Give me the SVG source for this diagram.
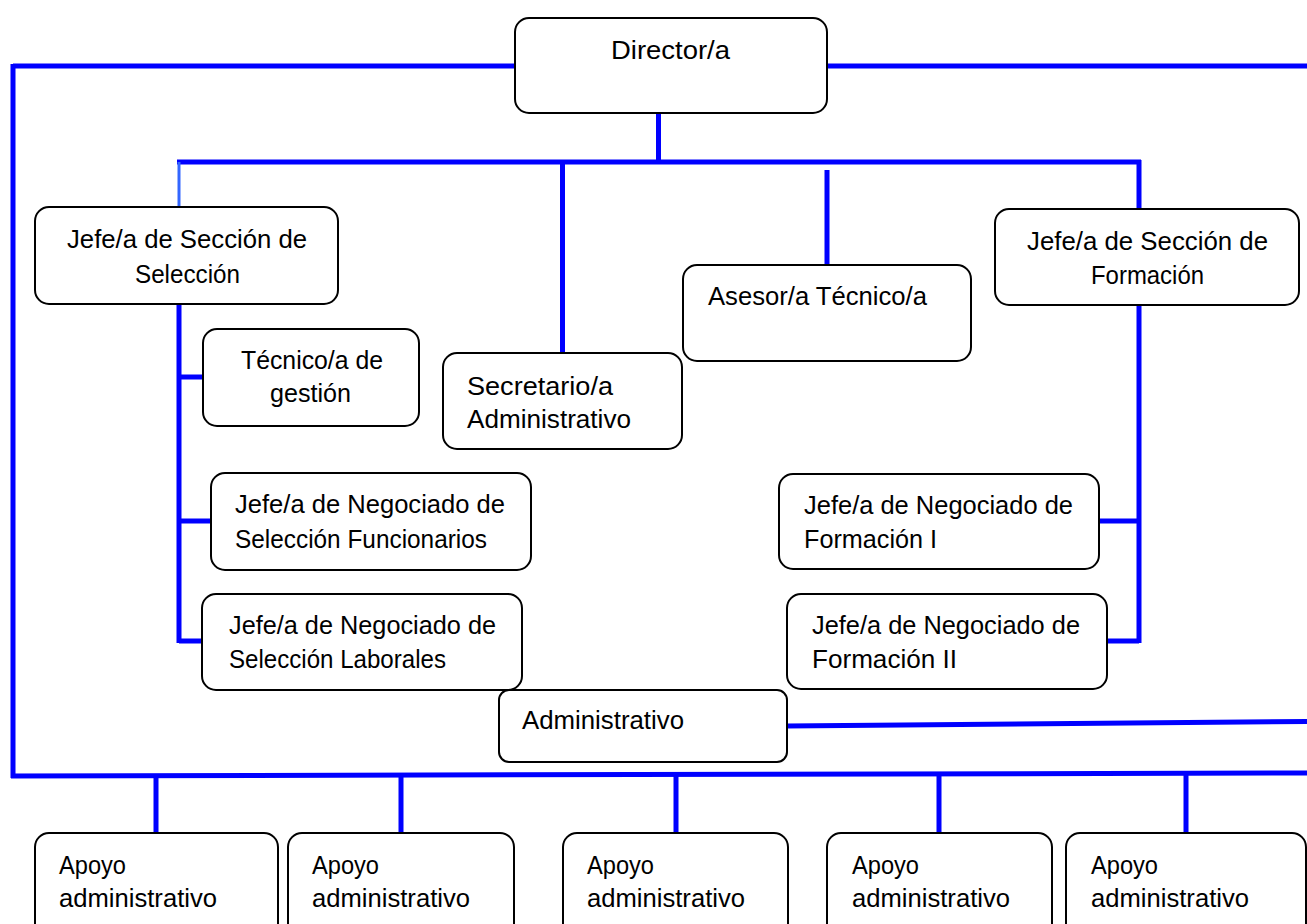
<svg xmlns="http://www.w3.org/2000/svg" width="1307" height="924" viewBox="0 0 1307 924">
<style>
.box{fill:#fff;stroke:#000;stroke-width:2}
.ln{stroke:#0000ff;stroke-width:5;fill:none}
.lt{stroke:#3366ff;stroke-width:3;fill:none}
text{font-family:"Liberation Sans",Arial,sans-serif;font-size:25px;fill:#000}
</style>
<rect width="1307" height="924" fill="#fff"/>
<g id="connectors">
<path class="ln" d="M13 66 H515 M13 64 V778 M827 66 H1307 M658.5 113 V162 M177 162 H1141 M562.5 162 V353 M827 170 V265 M1139 160 V209"/>
<path class="lt" d="M179 162 V208"/>
<path class="ln" d="M179 304 V643 M179 377 H203 M179 521 H211 M179 641 H202"/>
<path class="ln" d="M1139 305 V643 M1099 521 H1139 M1107 641 H1139"/>
<path class="ln" d="M787 726 L1307 721.5"/>
<path class="ln" d="M11 776 L1307 773"/>
<path class="ln" d="M156 776 V833 M401 776 V833 M676 775 V833 M939 774 V833 M1186 774 V833"/>
</g>
<g id="director"><rect class="box" x="515" y="18" width="312" height="95" rx="14"/><text x="611" y="59" textLength="119" lengthAdjust="spacingAndGlyphs">Director/a</text></g>
<g id="jefe-seleccion"><rect class="box" x="35" y="207" width="303" height="97" rx="14"/><text x="67" y="248" textLength="240" lengthAdjust="spacingAndGlyphs">Jefe/a de Sección de</text><text x="135" y="283" textLength="105" lengthAdjust="spacingAndGlyphs">Selección</text></g>
<g id="jefe-formacion"><rect class="box" x="995" y="209" width="304" height="96" rx="14"/><text x="1027" y="250" textLength="241" lengthAdjust="spacingAndGlyphs">Jefe/a de Sección de</text><text x="1091" y="284" textLength="113" lengthAdjust="spacingAndGlyphs">Formación</text></g>
<g id="asesor"><rect class="box" x="683" y="265" width="288" height="96" rx="14"/><text x="708" y="305" textLength="219" lengthAdjust="spacingAndGlyphs">Asesor/a Técnico/a</text></g>
<g id="secretario"><rect class="box" x="443" y="353" width="239" height="96" rx="14"/><text x="467" y="395" textLength="146" lengthAdjust="spacingAndGlyphs">Secretario/a</text><text x="467" y="428" textLength="164" lengthAdjust="spacingAndGlyphs">Administrativo</text></g>
<g id="tecnico-gestion"><rect class="box" x="203" y="329" width="216" height="97" rx="14"/><text x="241" y="369" textLength="142" lengthAdjust="spacingAndGlyphs">Técnico/a de</text><text x="270" y="402" textLength="81" lengthAdjust="spacingAndGlyphs">gestión</text></g>
<g id="negociado-funcionarios"><rect class="box" x="211" y="473" width="320" height="97" rx="14"/><text x="235" y="513" textLength="270" lengthAdjust="spacingAndGlyphs">Jefe/a de Negociado de</text><text x="235" y="548" textLength="252" lengthAdjust="spacingAndGlyphs">Selección Funcionarios</text></g>
<g id="negociado-laborales"><rect class="box" x="202" y="594" width="320" height="96" rx="14"/><text x="229" y="634" textLength="267" lengthAdjust="spacingAndGlyphs">Jefe/a de Negociado de</text><text x="229" y="668" textLength="217" lengthAdjust="spacingAndGlyphs">Selección Laborales</text></g>
<g id="negociado-formacion-1"><rect class="box" x="779" y="474" width="320" height="95" rx="14"/><text x="804" y="514" textLength="269" lengthAdjust="spacingAndGlyphs">Jefe/a de Negociado de</text><text x="804" y="548" textLength="133" lengthAdjust="spacingAndGlyphs">Formación I</text></g>
<g id="negociado-formacion-2"><rect class="box" x="787" y="594" width="320" height="95" rx="14"/><text x="812" y="634" textLength="268" lengthAdjust="spacingAndGlyphs">Jefe/a de Negociado de</text><text x="812" y="668" textLength="145" lengthAdjust="spacingAndGlyphs">Formación II</text></g>
<g id="administrativo"><rect class="box" x="499" y="690" width="288" height="72" rx="10"/><text x="522" y="729" textLength="162" lengthAdjust="spacingAndGlyphs">Administrativo</text></g>
<g id="apoyo-1"><rect class="box" x="35" y="833" width="243" height="110" rx="14"/><text x="59" y="874" textLength="67" lengthAdjust="spacingAndGlyphs">Apoyo</text><text x="59" y="907" textLength="158" lengthAdjust="spacingAndGlyphs">administrativo</text></g>
<g id="apoyo-2"><rect class="box" x="288" y="833" width="226" height="110" rx="14"/><text x="312" y="874" textLength="67" lengthAdjust="spacingAndGlyphs">Apoyo</text><text x="312" y="907" textLength="158" lengthAdjust="spacingAndGlyphs">administrativo</text></g>
<g id="apoyo-3"><rect class="box" x="563" y="833" width="225" height="110" rx="14"/><text x="587" y="874" textLength="67" lengthAdjust="spacingAndGlyphs">Apoyo</text><text x="587" y="907" textLength="158" lengthAdjust="spacingAndGlyphs">administrativo</text></g>
<g id="apoyo-4"><rect class="box" x="827" y="833" width="225" height="110" rx="14"/><text x="852" y="874" textLength="67" lengthAdjust="spacingAndGlyphs">Apoyo</text><text x="852" y="907" textLength="158" lengthAdjust="spacingAndGlyphs">administrativo</text></g>
<g id="apoyo-5"><rect class="box" x="1066" y="833" width="240" height="110" rx="14"/><text x="1091" y="874" textLength="67" lengthAdjust="spacingAndGlyphs">Apoyo</text><text x="1091" y="907" textLength="158" lengthAdjust="spacingAndGlyphs">administrativo</text></g>
</svg>
